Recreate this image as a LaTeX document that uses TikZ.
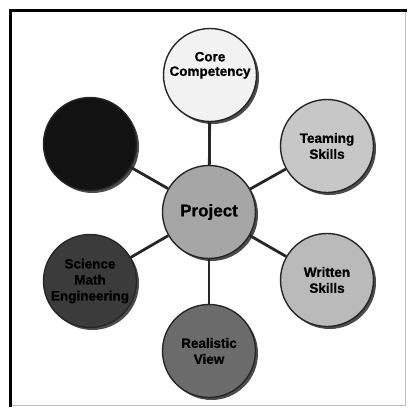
\documentclass[tikz,border=0pt]{standalone}
\usepackage{fontspec}
\setmainfont{Liberation Sans}[BoldFeatures={FakeBold=0.9}]
\begin{document}
\begin{tikzpicture}[x=1pt,y=-1pt,
  bubble/.style={circle, minimum size=93pt, inner sep=0pt, draw=black!85, line width=1.4pt, font=\bfseries\fontsize{13.5}{16}\selectfont, align=center, text=black},
  link/.style={draw=black!85, line width=2.8pt}]
\useasboundingbox (0,0) rectangle (408,408);
\fill[white] (0,0) rectangle (408,408);
\draw[black!25, line width=1pt] (405,10) -- (405,406) (10,405) -- (406,405);
\draw[black, line width=3pt] (10,407) -- (10,10) -- (407,10);
% shadows
\foreach \p in {(210,75),(327,146),(327,280),(209,351),(90,281),(90,144),(209,212)}
  \fill[black!70] \p ++(2.5,2.5) circle (46.5);
% nodes
\node[bubble, fill=black!5] (core) at (210,75) {\raisebox{6pt}[0pt][0pt]{\begin{tabular}{@{}c@{}}Core\\[-1.5pt]Competency\end{tabular}}};
\node[bubble, fill=black!22] (team) at (327,146) {Teaming\\Skills};
\node[bubble, fill=black!27] (writ) at (327,280) {Written\\Skills};
\node[bubble, fill=black!58] (real) at (209,351) {Realistic\\View};
\node[bubble, fill=black!77] (sci) at (90,281) {Science\\Math\\Engineering};
\node[bubble, fill=black!93] (blk) at (90,144) {};
\node[bubble, fill=black!35, font=\bfseries\fontsize{17}{18}\selectfont] (proj) at (209,212) {Project};
% links
\path[link] (proj) -- (core);
\path[link] (proj) -- (team);
\path[link] (proj) -- (writ);
\path[link] (proj) -- (real);
\path[link] (proj) -- (sci);
\path[link] (proj) -- (blk);
\end{tikzpicture}
\end{document}
